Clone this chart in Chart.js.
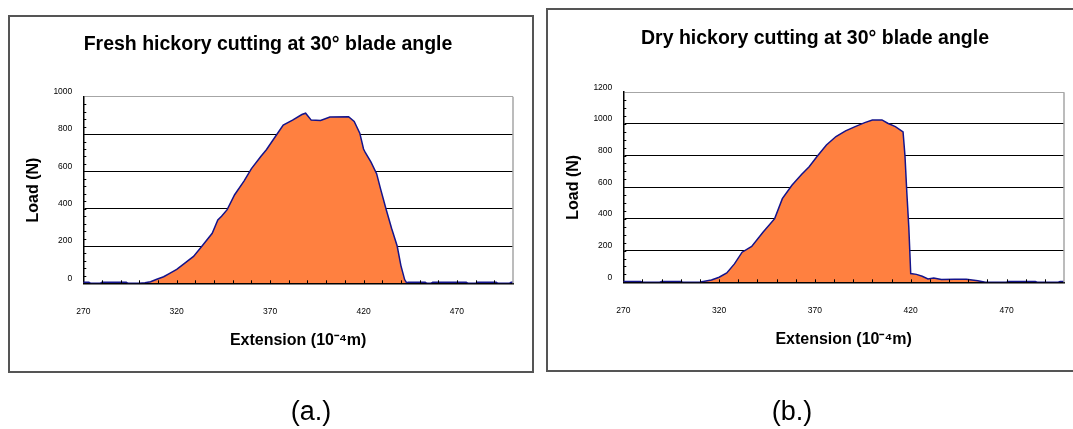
<!DOCTYPE html>
<html><head><meta charset="utf-8">
<script src="https://cdn.jsdelivr.net/npm/chart.js@4.4.1/dist/chart.umd.min.js"></script>
<style>
html,body{margin:0;padding:0;background:#fff;}
body{width:1073px;height:429px;position:relative;overflow:hidden;font-family:"Liberation Sans",Arial,sans-serif;}
.frame{position:absolute;border:2px solid #555;box-sizing:border-box;}
#fa{left:8px;top:15px;width:526px;height:358px;}
#fb{left:546px;top:8px;width:540px;height:364px;}
.cw{position:absolute;top:0;height:429px;}
#wa{left:0;width:540px;}
#wb{left:540px;width:533px;}
.cap{position:absolute;top:398px;font-size:27px;line-height:27px;width:100px;text-align:center;color:#000;}
#ca{left:261px;} #cb{left:742px;}
</style></head>
<body>
<div class="frame" id="fa"></div><div class="frame" id="fb"></div>
<div class="cw" id="wa"><canvas id="ga"></canvas></div>
<div class="cw" id="wb"><canvas id="gb"></canvas></div>
<div class="cap" id="ca">(a.)</div><div class="cap" id="cb">(b.)</div>
<script>
// ---- data ----
const titleA = "Fresh hickory cutting at 30° blade angle";
const titleB = "Dry hickory cutting at 30° blade angle";
const xTitle = "Extension (10⁻⁴m)";
const yTitle = "Load (N)";
const xTicks = [270, 320, 370, 420, 470];
const xMin = 270, xMax = 500;
const yMaxA = 1000, yMaxB = 1200;

const freshX = [270,273,274,279,280,293,294,300,303,306,309,313,316,320,324,329,334,339,342,344,347,351,356,360,365,368,372,377,382,387,389,392,397,402,412,415,418,420,421,424,427,429,432,435,438,440,442,443,444,453,454,456,457,475,476,480,481,491,492,498,499,500];
const freshY = [5,5,0,0,5,5,0,0,3,8,20,35,52,75,105,144,205,268,340,360,395,475,548,615,680,716,775,848,875,905,912,875,873,892,893,868,805,720,700,650,588,510,400,295,200,95,20,3,5,5,0,0,5,5,0,0,5,5,0,0,5,5];

const dryX = [270,279,280,289,290,300,301,310,311,316,320,324,328,332,337,343,349,353,358,363,367,371,376,381,386,391,396,400,405,408,412,416,417,418,419,420,423,426,429,432,436,443,449,455,459,470,471,485,486,497,498,500];
const dryY = [5,5,0,0,5,5,0,0,4,15,32,59,116,190,226,317,402,528,613,681,729,793,867,920,956,983,1008,1025,1025,1004,983,950,800,560,350,55,50,38,21,27,17,19,19,10,0,0,5,5,0,0,5,5];

const FONT = "'Liberation Sans', Arial, sans-serif";

const decor = {
  id: 'decor',
  afterDraw(chart, args, opts) {
    const {ctx, chartArea: a, scales: {x, y}} = chart;
    ctx.save();
    ctx.strokeStyle = '#a6a6a6'; ctx.lineWidth = 1.5;
    ctx.beginPath();
    ctx.moveTo(a.right, a.top); ctx.lineTo(a.right, a.bottom);
    ctx.stroke();
    ctx.strokeStyle = '#000'; ctx.lineWidth = 1;
    ctx.beginPath();
    for (let v = x.min + opts.xMinor; v < x.max; v += opts.xMinor) {
      const px = Math.round(x.getPixelForValue(v)) + 0.5;
      ctx.moveTo(px, a.bottom); ctx.lineTo(px, a.bottom - 3);
    }
    for (let v = opts.yMinor; v < y.max; v += opts.yMinor) {
      const py = Math.round(y.getPixelForValue(v)) + 0.5;
      ctx.moveTo(a.left, py); ctx.lineTo(a.left + 3, py);
    }
    ctx.stroke();
    ctx.restore();
  }
};

function build(id, xs, ys, cfg) {
  const pts = xs.map((x, i) => ({x: x, y: ys[i]}));
  return new Chart(document.getElementById(id), {
    type: 'line',
    data: {datasets: [{data: pts, borderColor: '#14148c', borderWidth: 1.5,
      backgroundColor: '#ff8040', fill: 'origin', pointRadius: 0, tension: 0}]},
    options: {
      responsive: true, maintainAspectRatio: false, animation: false,
      layout: {padding: cfg.pad},
      plugins: {
        legend: {display: false}, tooltip: {enabled: false},
        title: {display: true, text: cfg.title, color: '#000',
          font: {family: FONT, size: 19.5, weight: 'bold', lineHeight: 1.2},
          padding: {top: cfg.tTop, bottom: cfg.tBot}},
        decor: {xMinor: 10, yMinor: cfg.yMinor}
      },
      scales: {
        x: {type: 'linear', min: xMin, max: xMax, z: 1,
          afterBuildTicks: s => { s.ticks = xTicks.map(v => ({value: v})); },
          afterFit: s => { s.height = cfg.xH; },
          grid: {display: false},
          border: {display: true, color: '#000', width: 1.5},
          ticks: {autoSkip: false, maxRotation: 0, padding: 15, color: '#000',
            font: {family: FONT, size: 8.5}, callback: v => String(v)},
          title: {display: true, text: xTitle, color: '#000',
            font: {family: FONT, size: 16, weight: 'bold', lineHeight: 1},
            padding: {top: 0, bottom: cfg.xtPad}}},
        y: {type: 'linear', min: 0, max: cfg.yMax, z: 1,
          afterFit: s => { s.width = cfg.yW; },
          grid: {drawTicks: false, lineWidth: 1,
            color: c => c.tick.value === 0 ? 'rgba(0,0,0,0)' : (c.tick.value === cfg.yMax ? '#a6a6a6' : '#000')},
          border: {display: true, color: '#000', width: 1.5},
          ticks: {stepSize: 200, padding: 11, labelOffset: -5, color: '#000',
            font: {family: FONT, size: 8.5}, callback: v => String(v)},
          title: {display: true, text: yTitle, color: '#000',
            font: {family: FONT, size: 16, weight: 'bold', lineHeight: 1},
            padding: {top: cfg.ytPad, bottom: 0}}}
      }
    },
    plugins: [decor]
  });
}

build('ga', freshX, freshY, {title: titleA, yMax: yMaxA, yMinor: 40,
  pad: {left: 23, right: 27, top: 0, bottom: 75.7},
  tTop: 33.3, tBot: 40.1, yW: 60.3, ytPad: 3, xH: 70, xtPad: 4.6});
build('gb', dryX, dryY, {title: titleB, yMax: yMaxB, yMinor: 50,
  pad: {left: 26, right: 9, top: 0, bottom: 76.7},
  tTop: 26.6, tBot: 42.2, yW: 57.3, ytPad: 0, xH: 70, xtPad: 4.3});
</script>
</body></html>
